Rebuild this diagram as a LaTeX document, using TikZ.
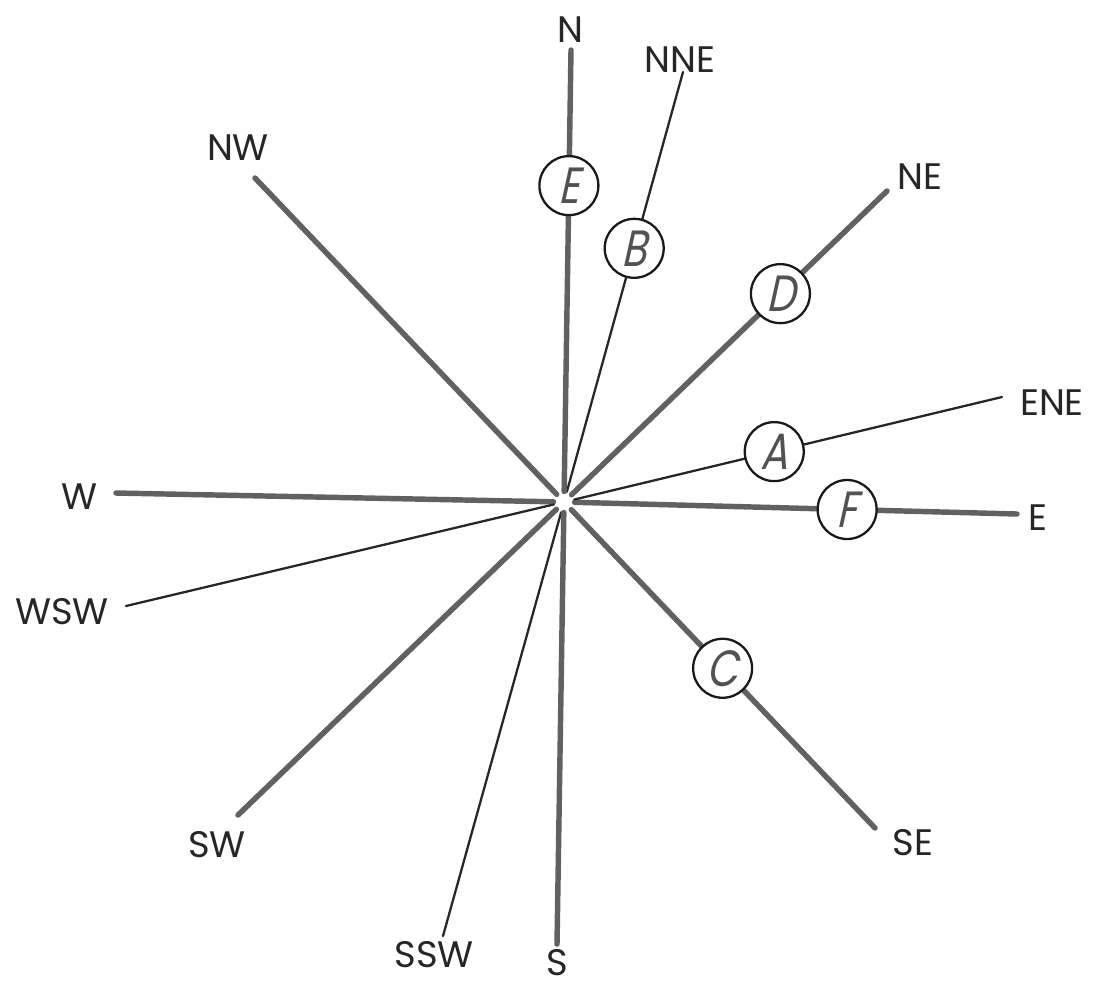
\documentclass[tikz,border=0pt]{standalone}
\usepackage{fontspec}
\setmainfont{Poppins}
\newfontfamily\tagfont[FakeSlant=0.22,FakeStretch=0.8]{Poppins}
\usetikzlibrary{positioning}

\begin{document}
\begin{tikzpicture}[
    x=0.02cm, y=-0.02cm,
    heavy/.style={line width=3.1pt, black!62, line cap=round, shorten <=6pt},
    light/.style={line width=1.3pt, black!85, line cap=round, shorten <=6pt},
    point/.style={font=\fontsize{21}{21}\selectfont, text=black!85, inner sep=0pt},
    tag/.style={circle, draw=black!90, line width=1.3pt, fill=white,
                minimum size=1.18cm, inner sep=0pt,
                font=\tagfont\fontsize{29}{29}\selectfont, text=black!68},
]
\useasboundingbox (0,0) rectangle (1098,992);

% centre
\coordinate (o) at (564,502);

% ends of the rays
\coordinate (N)   at (571,50);
\coordinate (NNE) at (683,72);
\coordinate (NE)  at (887,191);
\coordinate (ENE) at (1002,397);
\coordinate (E)   at (1017,514);
\coordinate (SE)  at (875,828);
\coordinate (S)   at (557,944);
\coordinate (SSW) at (443,936);
\coordinate (SW)  at (238,815);
\coordinate (WSW) at (126,606);
\coordinate (W)   at (116,493);
\coordinate (NW)  at (255,178);

% labels
\node[point] (tN)   at (570,30)   {N};
\node[point] (tNNE) at (680,60)   {NNE};
\node[point] (tNE)  at (920,177)  {NE};
\node[point] (tENE) at (1052,403) {ENE};
\node[point] (tE)   at (1038,518) {E};
\node[point] (tSE)  at (913,843)  {SE};
\node[point] (tS)   at (557,963)  {S};
\node[point] (tSSW) at (434,955)  {SSW};
\node[point] (tSW)  at (217,845)  {SW};
\node[point] (tWSW) at (62,612)   {WSW};
\node[point] (tW)   at (80,497)   {W};
\node[point] (tNW)  at (238,148)  {NW};

% rays
\draw[heavy] (o) -- (NW);
\draw[heavy] (o) -- (W);
\draw[light] (o) -- (WSW);
\draw[heavy] (o) -- (SW);
\draw[light] (o) -- (SSW);
\draw[heavy] (o) -- (S);
\draw[heavy] (o) -- (SE) node[tag, pos=0.51] (cC) {C};
\draw[heavy] (o) -- (E)   node[tag, pos=0.625] (cF) {F};
\draw[light] (o) -- (ENE) node[tag, pos=0.48] (cA) {A};
\draw[heavy] (o) -- (NE)  node[tag, pos=0.67] (cD) {D};
\draw[light] (o) -- (NNE) node[tag, pos=0.59] (cB) {B};
\draw[heavy] (o) -- (N)   node[tag, pos=0.70] (cE) {E};

\end{tikzpicture}
\end{document}
